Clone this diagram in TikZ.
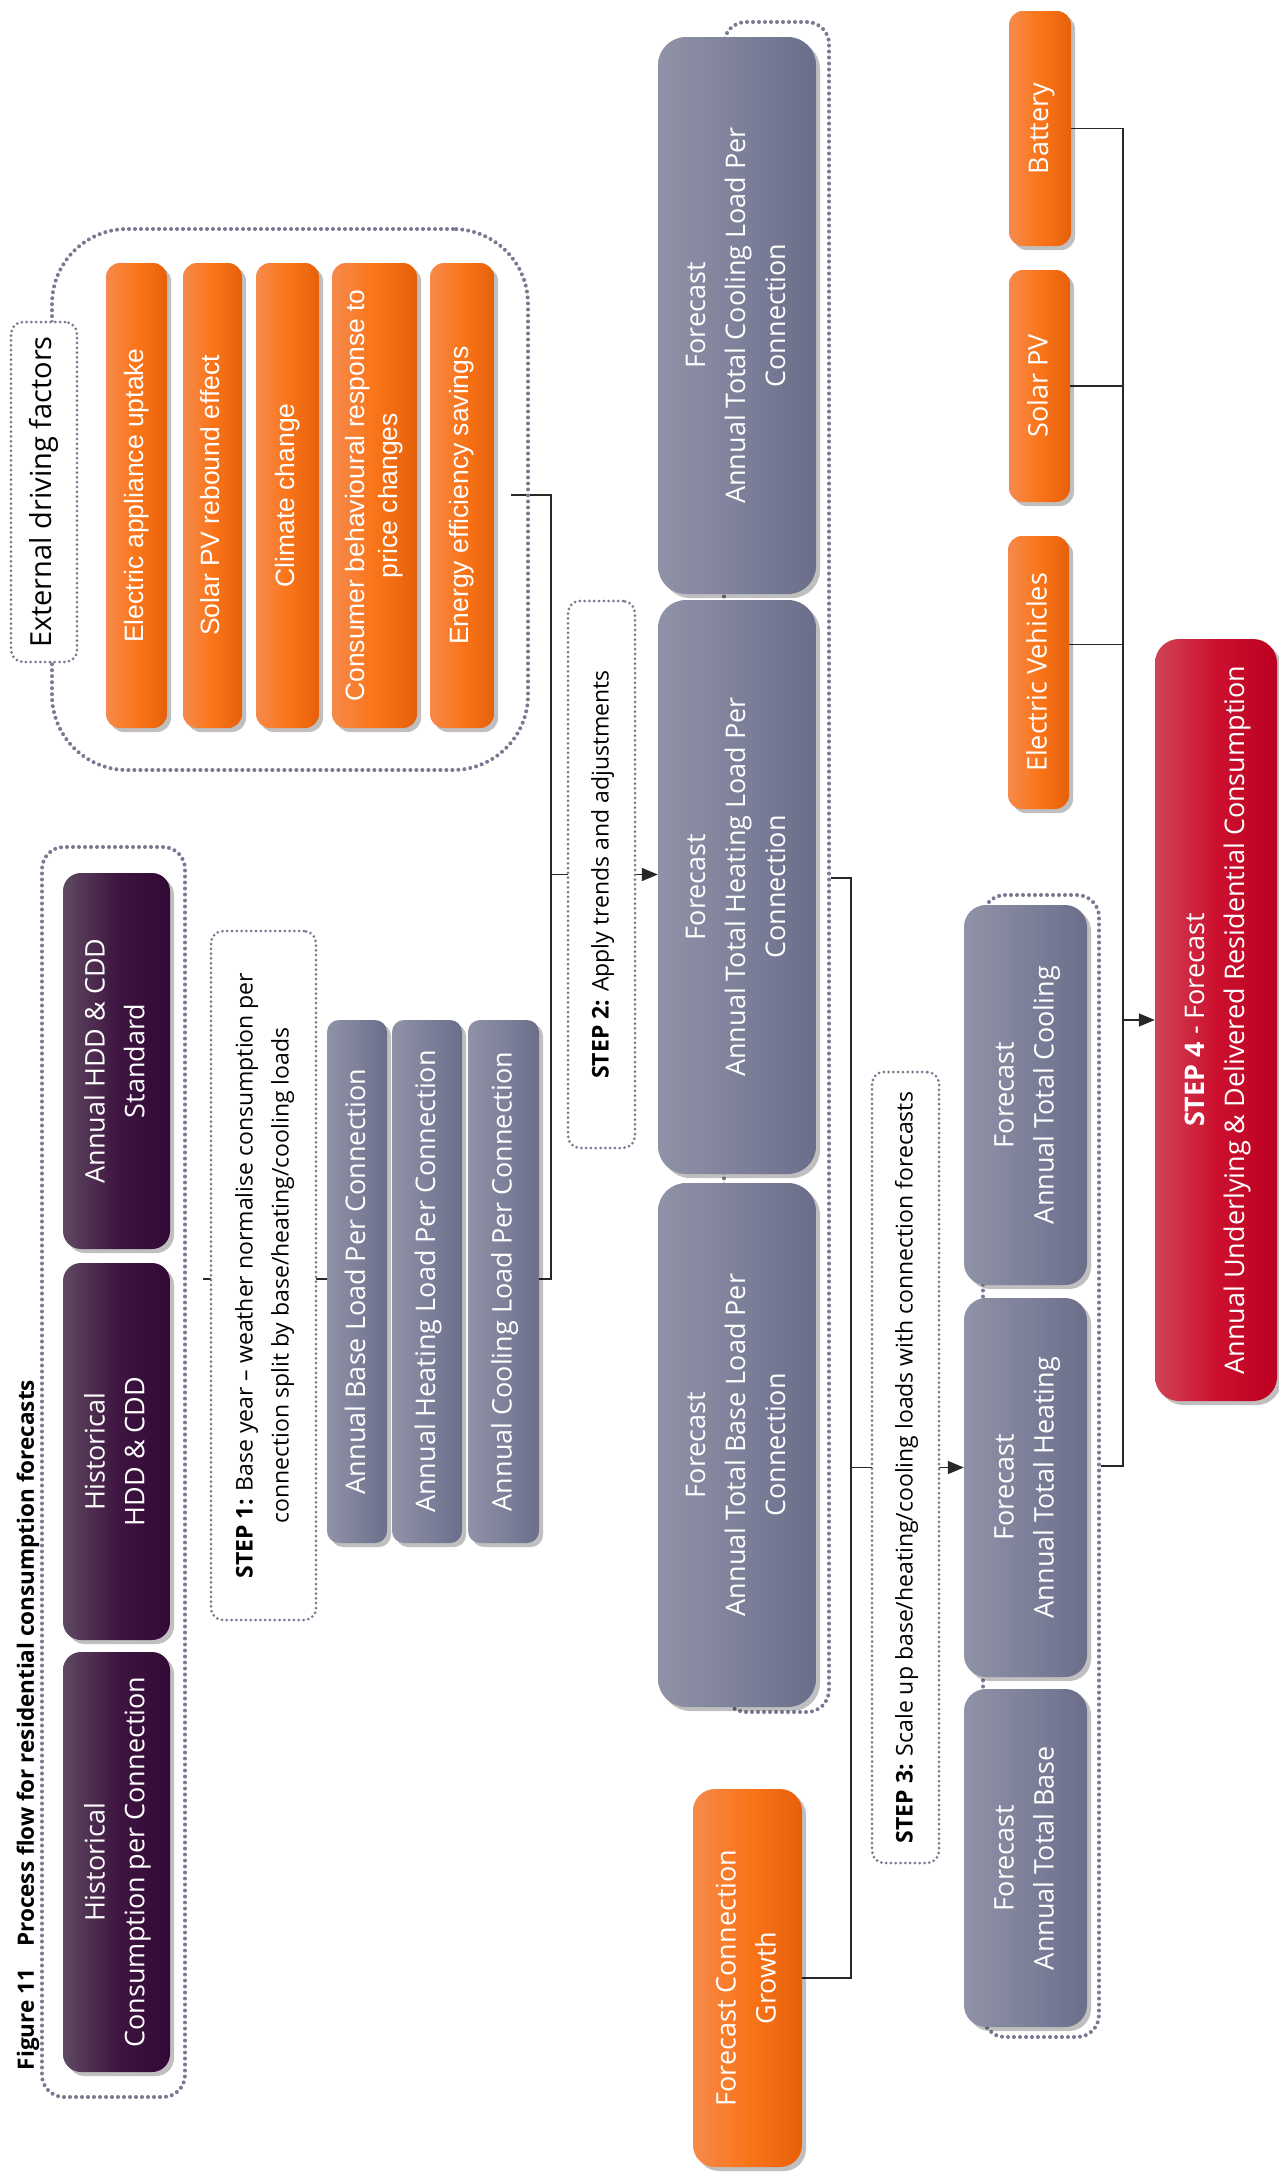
\documentclass[tikz,border=0pt]{standalone}
\usepackage{fontspec}
\usepackage{graphicx}
\setmainfont{Open Sans}
\newfontfamily\arialf{Liberation Sans}
\usetikzlibrary{shadows,arrows.meta,calc}
\pgfdeclarelayer{bg}
\pgfsetlayers{bg,main}
\definecolor{dotc}{RGB}{120,122,146}
\definecolor{purA}{RGB}{95,74,98}
\definecolor{purB}{RGB}{62,20,64}
\definecolor{purC}{RGB}{50,8,52}
\definecolor{grA}{RGB}{144,146,167}
\definecolor{grB}{RGB}{126,129,154}
\definecolor{grC}{RGB}{106,110,138}
\definecolor{orA}{RGB}{246,138,76}
\definecolor{orB}{RGB}{250,117,25}
\definecolor{orC}{RGB}{230,96,10}
\definecolor{rdA}{RGB}{208,68,88}
\definecolor{rdB}{RGB}{204,16,46}
\definecolor{rdC}{RGB}{188,0,34}
\definecolor{linec}{RGB}{40,40,40}
\newcommand\rtxt[1]{\rotatebox{90}{\begin{tabular}{@{}c@{}}#1\end{tabular}}}
\tikzset{
  box/.style={rounded corners=14pt, inner sep=0pt, text=white,
    font=\fontsize{27}{40}\selectfont,
    drop shadow={shadow xshift=4pt, shadow yshift=-4pt, opacity=0.25, fill=black}},
  pbox/.style={box, rounded corners=18pt, left color=purA, right color=purC, middle color=purB},
  gbox/.style={box, left color=grA, right color=grC, middle color=grB},
  obox/.style={box, left color=orA, right color=orC, middle color=orB},
  rbox/.style={box, rounded corners=24pt, left color=rdA, right color=rdC, middle color=rdB},
  ebox/.style={obox, font=\arialf\fontsize{26.5}{33}\selectfont},
  grp/.style={draw=dotc, line width=4pt, dash pattern=on 0pt off 6pt, line cap=round, rounded corners=22pt, inner sep=0pt},
  stepbox/.style={draw=dotc, line width=3pt, dash pattern=on 0pt off 4.8pt, line cap=round,
    rounded corners=12pt, fill=white, text=black, inner sep=0pt, font=\fontsize{23}{36}\selectfont},
  conn/.style={draw=linec, line width=1.5pt},
  arr/.style={-{Triangle[length=16pt,width=13pt]}}
}
\begin{document}
\begin{tikzpicture}[x=1pt,y=-1pt]
\useasboundingbox (0,0) rectangle (1278,2176);

% title
\node[inner sep=0pt, font=\fontsize{22.5}{26}\selectfont\bfseries] (title) at (28,1725)
  {\rotatebox{90}{Figure 11\hspace{22pt}Process flow for residential consumption forecasts}};

% group 1: historical inputs
\node[grp, minimum width=143pt, minimum height=1250pt] (g1) at (113.5,1472) {};
\node[pbox, minimum width=107pt, minimum height=376pt] (pStd) at (116.5,1061) {\rtxt{Annual HDD \& CDD\\Standard}};
\node[pbox, minimum width=107pt, minimum height=377pt] (pHist) at (116.5,1451.5) {\rtxt{Historical\\HDD \& CDD}};
\node[pbox, minimum width=107pt, minimum height=420pt] (pCons) at (116.5,1862) {\rtxt{Historical\\Consumption per Connection}};

% step 1
\node[stepbox, minimum width=105pt, minimum height=689pt] (s1) at (263.5,1275.5)
  {\rtxt{\textbf{STEP 1:} Base year -- weather normalise consumption per\\connection split by base/heating/cooling loads}};
\node[gbox, rounded corners=12pt, minimum width=60pt, minimum height=523pt] (base) at (357,1281.5) {\rtxt{Annual Base Load Per Connection}};
\node[gbox, rounded corners=12pt, minimum width=70pt, minimum height=523pt] (heat) at (427,1281.5) {\rtxt{Annual Heating Load Per Connection}};
\node[gbox, rounded corners=12pt, minimum width=71pt, minimum height=523pt] (cool) at (503.5,1281.5) {\rtxt{Annual Cooling Load Per Connection}};

% external driving factors
\node[grp, rounded corners=75pt, minimum width=476pt, minimum height=541pt] (gx) at (290,499.5) {};
\node[stepbox, minimum width=66pt, minimum height=340pt, font=\fontsize{29}{36}\selectfont] (exlab) at (44,492) {\rtxt{External driving factors}};
\node[ebox, minimum width=61pt, minimum height=465pt] (e1) at (136.5,495.5) {\rtxt{Electric appliance uptake}};
\node[ebox, minimum width=59pt, minimum height=465pt] (e2) at (212.5,495.5) {\rtxt{Solar PV rebound effect}};
\node[ebox, minimum width=63pt, minimum height=465pt] (e3) at (287.5,495.5) {\rtxt{Climate change}};
\node[ebox, minimum width=85pt, minimum height=465pt] (e4) at (374.5,495.5) {\rtxt{Consumer behavioural response to\\price changes}};
\node[ebox, minimum width=64pt, minimum height=465pt] (e5) at (462,495.5) {\rtxt{Energy efficiency savings}};

% step 2
\node[stepbox, minimum width=67pt, minimum height=547pt] (s2) at (601.5,874.5) {\rtxt{\textbf{STEP 2:} Apply trends and adjustments}};
\node[grp, minimum width=105pt, minimum height=1690pt] (g2) at (776.5,867) {};
\node[gbox, rounded corners=28pt, minimum width=158pt, minimum height=557pt] (fcool) at (737,315.5) {\rtxt{Forecast\\Annual Total Cooling Load Per\\Connection}};
\node[gbox, rounded corners=28pt, minimum width=158pt, minimum height=574pt] (fheat) at (737,887) {\rtxt{Forecast\\Annual Total Heating Load Per\\Connection}};
\node[gbox, rounded corners=28pt, minimum width=158pt, minimum height=524pt] (fbase) at (737,1445) {\rtxt{Forecast\\Annual Total Base Load Per\\Connection}};
\node[obox, rounded corners=22pt, minimum width=109pt, minimum height=378pt] (fcg) at (747.5,1978) {\rtxt{Forecast Connection\\Growth}};

% step 3
\node[stepbox, minimum width=67pt, minimum height=791pt] (s3) at (905.5,1467.5) {\rtxt{\textbf{STEP 3:} Scale up base/heating/cooling loads with connection forecasts}};
\node[grp, minimum width=116pt, minimum height=1142pt] (g3) at (1041,1466) {};
\node[gbox, rounded corners=22pt, minimum width=123pt, minimum height=380pt] (s3cool) at (1025.5,1095) {\rtxt{Forecast\\Annual Total Cooling}};
\node[gbox, rounded corners=22pt, minimum width=123pt, minimum height=379pt] (s3heat) at (1025.5,1487.5) {\rtxt{Forecast\\Annual Total Heating}};
\node[gbox, rounded corners=22pt, minimum width=123pt, minimum height=338pt] (s3base) at (1025.5,1858) {\rtxt{Forecast\\Annual Total Base}};

% step 4 inputs
\node[obox, minimum width=62pt, minimum height=235pt] (batt) at (1040,128.5) {\rtxt{Battery}};
\node[obox, minimum width=61pt, minimum height=232pt] (solar) at (1039.5,386) {\rtxt{Solar PV}};
\node[obox, minimum width=61pt, minimum height=273pt] (ev) at (1038.5,672.5) {\rtxt{Electric Vehicles}};
\node[rbox, minimum width=122pt, minimum height=762pt] (red) at (1216,1020) {\rtxt{\textbf{STEP 4} - Forecast\\Annual Underlying \& Delivered Residential Consumption}};

% junctions
\coordinate (c1) at (203,1279);
\coordinate (j1) at (551,495);
\coordinate (c2) at (511,495);
\coordinate (j2) at (851,878);
\coordinate (j3) at (1123,1466);

\begin{pgfonlayer}{bg}
\fill[white] (0,0) rectangle (1278,2176);
\draw[conn] (c1) -- (c1 -| base.west);
\draw[conn] (c1 -| cool.east) -| (j1) -- (c2);
\draw[conn,arr] (j1 |- s2.center) -- (s2.center -| fheat.west);
\draw[conn] (g2.east |- j2) -- (j2) |- (fcg.east);
\draw[conn,arr] (j2 |- s3.center) -- (s3.center -| s3heat.west);
\draw[conn] (g3.east) -- (j3) |- (batt.east);
\draw[conn] (solar.east) -- (solar.east -| j3);
\draw[conn] ([yshift=28pt]ev.east) -- ([yshift=28pt]ev.east -| j3);
\draw[conn,arr] (j3 |- red.west) -- (red.west);
\end{pgfonlayer}
\end{tikzpicture}
\end{document}
